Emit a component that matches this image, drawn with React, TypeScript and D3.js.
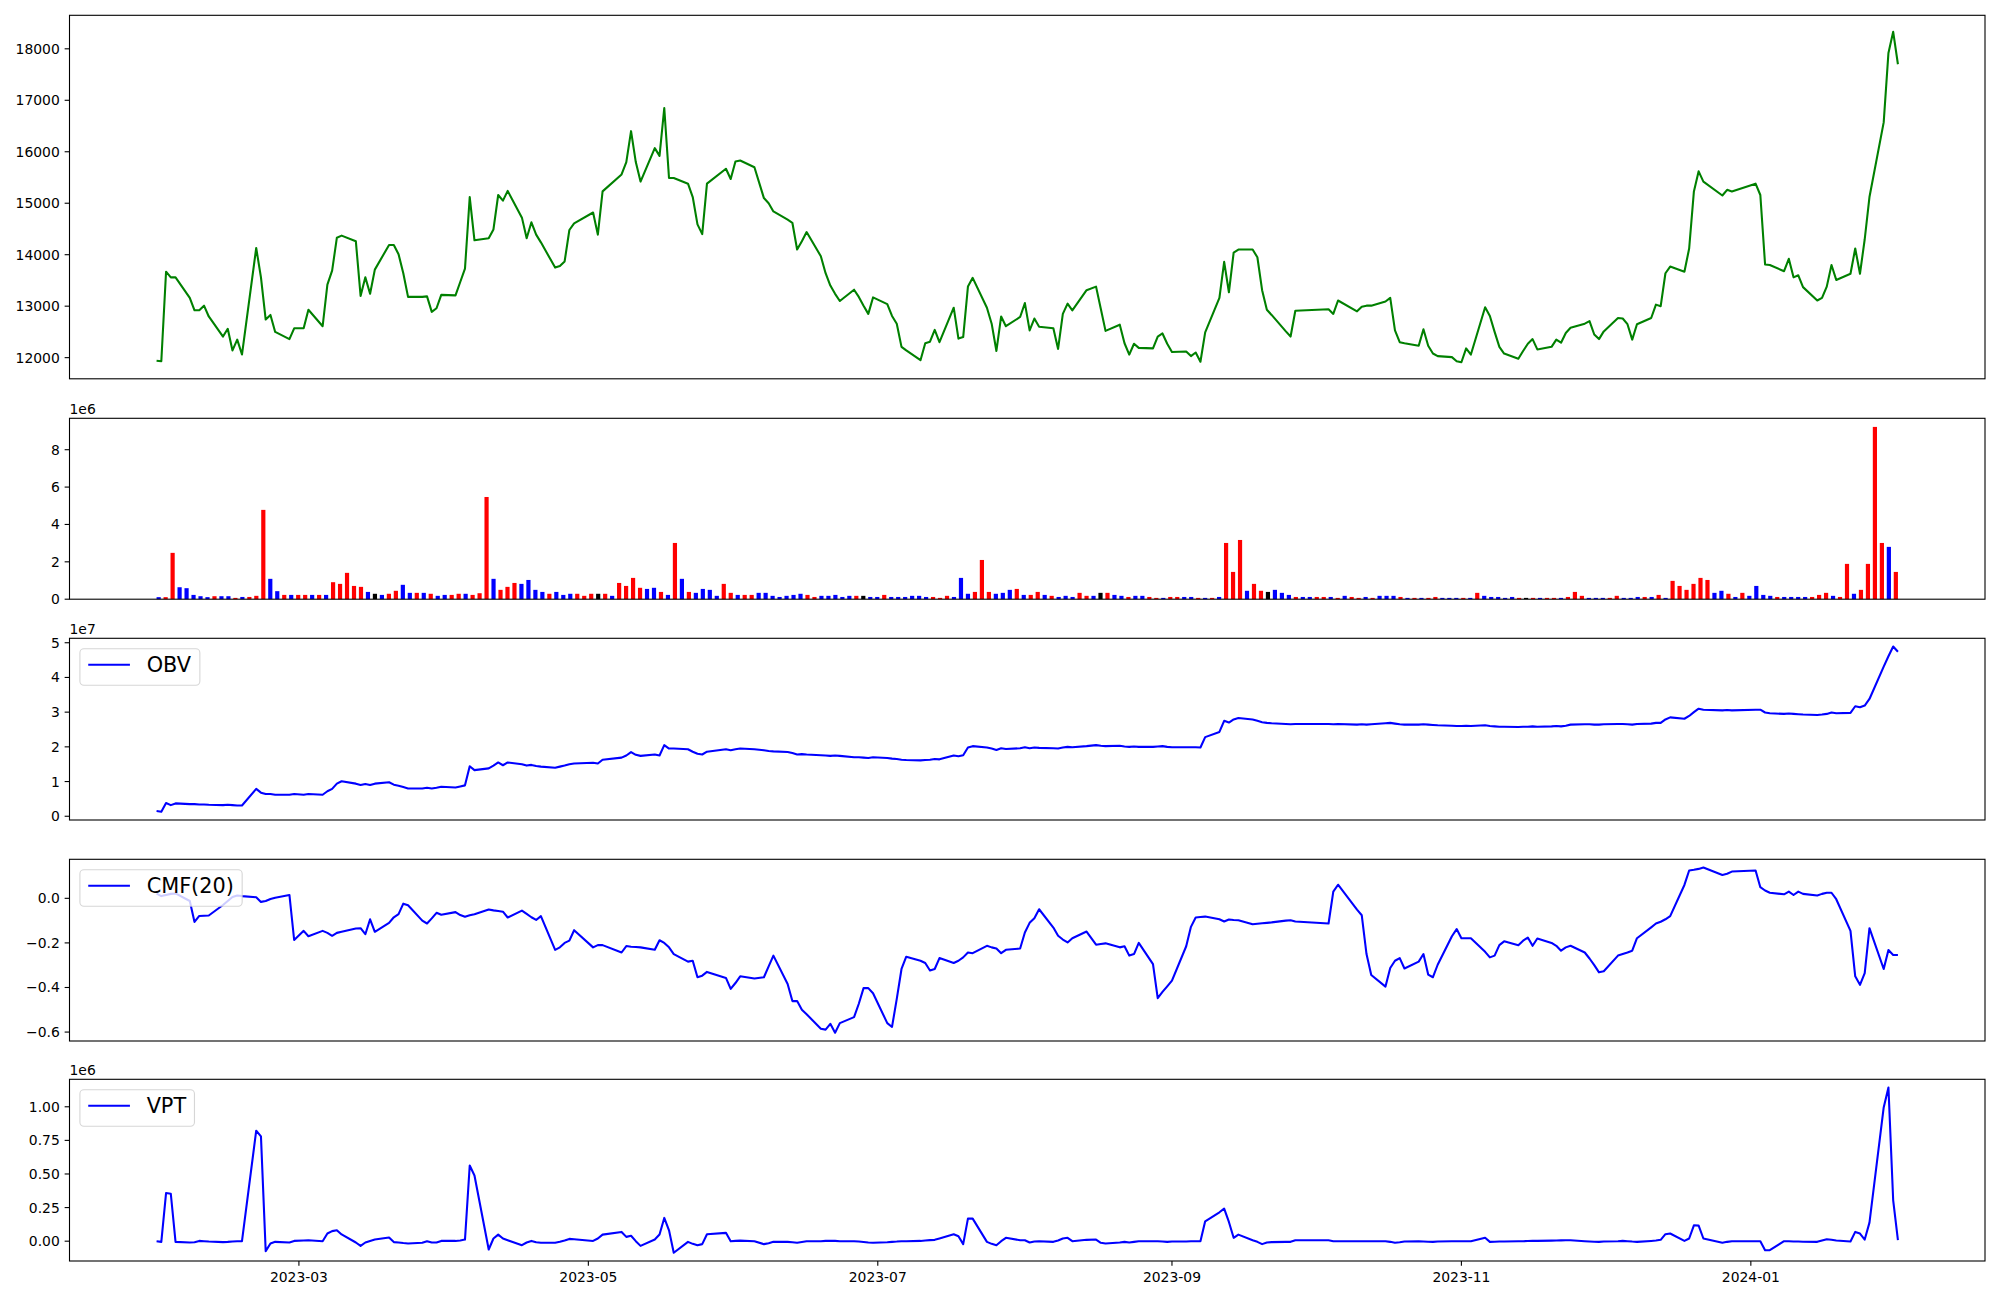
import React from 'react';
import * as d3 from 'd3';

// ---------- data ----------
const START = '2023-01-30';
const END = '2024-02-01';
const HOLIDAYS = ['2023-03-01', '2023-05-01', '2023-05-05', '2023-05-29', '2023-06-06', '2023-08-15', '2023-09-28', '2023-09-29', '2023-10-02', '2023-10-03', '2023-10-09', '2023-12-25', '2023-12-29', '2024-01-01'];

const CLOSE = [
  11940, 11930, 13670, 13560, 13560, 13160, 12920, 12920, 13010, 12800,
  12410, 12560, 12140, 12350, 12060, 14130, 13560, 12740, 12830, 12500,
  12360, 12570, 12570, 12930, 12610, 13420, 13690, 14330, 14370, 14260,
  13200, 13560, 13240, 13710, 14190, 14190, 14010, 13640, 13180, 13180,
  13190, 12890, 12960, 13220, 13210, 13470, 13730, 15120, 14280, 14320,
  14490, 15160, 15050, 15240, 14720, 14320, 14630, 14390, 14240, 13750,
  13780, 13870, 14480, 14610, 14820, 14390, 15230, 15560, 15800, 16400,
  15800, 15420, 16070, 15920, 16850, 15490, 15490, 15380, 15120, 14590,
  14400, 15380, 15670, 15470, 15810, 15830, 15700, 15100, 15000, 14840,
  14680, 14620, 14100, 14260, 14440, 13970, 13640, 13400, 13240, 13100,
  13320, 13180, 13010, 12850, 13170, 13040, 12810, 12660, 12210, 12140,
  11950, 12280, 12310, 12540, 12300, 12970, 12370, 12400, 13380, 13550,
  12970, 12660, 12130, 12800, 12610, 12790, 13060, 12530, 12760, 12600,
  12570, 12170, 12850, 13050, 12920, 13310, 13380, 12950, 12520, 12640,
  12280, 12060, 12270, 12190, 12180, 12410, 12470, 12270, 12110, 12120,
  12030, 12100, 11920, 12490, 13160, 13860, 13270, 14040, 14100, 14100,
  13950, 13310, 12930, 12830, 12510, 12410, 12910, 12940, 12850, 13110,
  12900, 12990, 13010, 13010, 13090, 13160, 12530, 12300, 12280, 12230,
  12550, 12230, 12080, 12030, 12010, 11930, 11910, 12180, 12060, 12980,
  12810, 12500, 12210, 12080, 11980, 12130, 12270, 12360, 12160, 12210,
  12350, 12290, 12480, 12580, 12660, 12710, 12450, 12360, 12510, 12770,
  12760, 12650, 12350, 12650, 12770, 13030, 13000, 13640, 13770, 13670,
  14120, 15230, 15620, 15420, 15150, 15260, 15230, 15380, 15160, 13810,
  13800, 13680, 13920, 13560, 13600, 13370, 13110, 13160, 13380, 13800,
  13510, 13630, 14120, 13630, 14300, 15120, 16570, 17920, 18330, 17700,
];

// volume in millions
const VOLUME = [
  0.11, 0.11, 2.48, 0.64, 0.59, 0.23, 0.16, 0.11, 0.16, 0.16,
  0.16, 0.07, 0.12, 0.12, 0.18, 4.78, 1.09, 0.43, 0.23, 0.23,
  0.23, 0.23, 0.23, 0.23, 0.23, 0.91, 0.82, 1.41, 0.71, 0.66,
  0.39, 0.29, 0.23, 0.29, 0.45, 0.77, 0.34, 0.34, 0.34, 0.29,
  0.18, 0.23, 0.23, 0.29, 0.29, 0.23, 0.32, 5.47, 1.09, 0.50,
  0.66, 0.87, 0.82, 1.03, 0.50, 0.39, 0.29, 0.39, 0.23, 0.29,
  0.29, 0.18, 0.29, 0.29, 0.29, 0.18, 0.87, 0.71, 1.14, 0.61,
  0.55, 0.61, 0.39, 0.23, 3.01, 1.09, 0.39, 0.34, 0.55, 0.50,
  0.18, 0.82, 0.34, 0.23, 0.23, 0.23, 0.34, 0.34, 0.18, 0.12,
  0.18, 0.23, 0.29, 0.23, 0.12, 0.18, 0.18, 0.23, 0.12, 0.18,
  0.18, 0.18, 0.12, 0.12, 0.23, 0.12, 0.12, 0.12, 0.18, 0.18,
  0.12, 0.12, 0.07, 0.18, 0.12, 1.14, 0.29, 0.39, 2.10, 0.39,
  0.29, 0.34, 0.50, 0.55, 0.23, 0.23, 0.39, 0.23, 0.18, 0.12,
  0.18, 0.12, 0.34, 0.18, 0.18, 0.34, 0.34, 0.23, 0.18, 0.12,
  0.18, 0.18, 0.12, 0.07, 0.07, 0.12, 0.12, 0.12, 0.12, 0.07,
  0.07, 0.07, 0.12, 3.01, 1.46, 3.17, 0.45, 0.82, 0.45, 0.39,
  0.50, 0.34, 0.23, 0.12, 0.12, 0.12, 0.12, 0.12, 0.12, 0.07,
  0.18, 0.12, 0.07, 0.12, 0.07, 0.18, 0.18, 0.18, 0.12, 0.07,
  0.07, 0.07, 0.07, 0.12, 0.07, 0.07, 0.07, 0.07, 0.07, 0.34,
  0.18, 0.12, 0.12, 0.07, 0.12, 0.07, 0.07, 0.07, 0.07, 0.07,
  0.07, 0.07, 0.12, 0.39, 0.18, 0.07, 0.07, 0.07, 0.07, 0.18,
  0.07, 0.07, 0.12, 0.12, 0.12, 0.23, 0.07, 0.98, 0.71, 0.50,
  0.82, 1.14, 1.03, 0.34, 0.45, 0.29, 0.12, 0.34, 0.18, 0.71,
  0.23, 0.18, 0.12, 0.12, 0.12, 0.12, 0.12, 0.12, 0.23, 0.34,
  0.18, 0.12, 1.89, 0.29, 0.50, 1.89, 9.22, 3.01, 2.80, 1.46,
];

// candle direction per day: u = up (red), d = down (blue), n = unchanged (black); 10 days per string
const CANDLE = [
  'duudddddud', 'duduuuddud', 'uududuuuuu', 'dnduuddudu', 'dduuduuudu',
  'uudddduddd', 'uuunuduuuu', 'ddudududdd', 'duuduudddd', 'ddduuddddd',
  'undduddddd', 'duuuddduuu', 'ddduduudud', 'dduudnuddu', 'dduuduuddu',
  'duduuuduun', 'dddudduudu', 'duududddud', 'uduudddudu', 'dddddunudu',
  'uduuuddduu', 'dddududuuu', 'uuuddududd', 'ddudddduuu', 'duuduuuudu',
];

// OBV in millions
const OBV = [
  1.5, 1.3, 3.8, 3.2, 3.7, 3.5, 3.5, 3.4, 3.4, 3.3,
  3.2, 3.3, 3.2, 3.1, 3.1, 7.9, 6.8, 6.4, 6.4, 6.2,
  6.2, 6.4, 6.2, 6.4, 6.2, 7.2, 7.9, 9.4, 10.1, 9.4,
  9.0, 9.3, 9.0, 9.4, 9.8, 9.1, 8.8, 8.4, 8.0, 8.0,
  8.2, 8.0, 8.2, 8.5, 8.3, 8.6, 8.9, 14.4, 13.3, 13.8,
  14.6, 15.5, 14.7, 15.5, 15.0, 14.6, 14.8, 14.5, 14.3, 14.0,
  14.3, 14.6, 15.0, 15.2, 15.4, 15.2, 16.3, 16.9, 17.5, 18.5,
  17.7, 17.4, 17.8, 17.5, 20.5, 19.5, 19.5, 19.3, 18.6, 18.0,
  17.8, 18.6, 19.3, 19.0, 19.3, 19.5, 19.3, 19.0, 18.8, 18.7,
  18.5, 18.2, 17.8, 17.9, 17.8, 17.6, 17.5, 17.4, 17.5, 17.4,
  17.0, 17.0, 16.9, 16.8, 17.0, 16.8, 16.6, 16.5, 16.3, 16.2,
  16.1, 16.2, 16.3, 16.5, 16.4, 17.5, 17.3, 17.6, 19.8, 20.2,
  19.8, 19.5, 19.1, 19.6, 19.4, 19.6, 19.9, 19.6, 19.8, 19.7,
  19.6, 19.5, 19.8, 20.0, 19.9, 20.2, 20.5, 20.3, 20.2, 20.3,
  20.1, 20.0, 20.1, 20.0, 20.0, 20.1, 20.2, 20.0, 19.9, 19.9,
  19.9, 19.9, 19.8, 22.8, 24.3, 27.5, 27.0, 27.9, 28.3, 27.9,
  27.5, 27.1, 26.9, 26.8, 26.6, 26.5, 26.6, 26.6, 26.5, 26.6,
  26.4, 26.5, 26.4, 26.5, 26.8, 26.9, 26.7, 26.5, 26.4, 26.4,
  26.5, 26.4, 26.3, 26.2, 26.1, 26.0, 26.0, 26.1, 26.0, 26.2,
  26.0, 25.9, 25.8, 25.8, 25.7, 25.8, 25.8, 25.9, 25.8, 25.9,
  26.0, 25.9, 26.1, 26.4, 26.5, 26.5, 26.4, 26.4, 26.5, 26.6,
  26.6, 26.5, 26.4, 26.6, 26.7, 26.9, 26.9, 27.9, 28.5, 28.1,
  28.9, 30.0, 31.0, 30.7, 30.5, 30.6, 30.5, 30.7, 30.7, 29.9,
  29.7, 29.5, 29.6, 29.5, 29.4, 29.3, 29.2, 29.3, 29.5, 29.9,
  29.7, 29.8, 31.7, 31.4, 31.9, 33.8, 43.1, 46.1, 48.9, 47.4,
];

const CMF = [
  0.021, 0.01, 0.015, 0.02, 0.022, -0.012, -0.106, -0.079, -0.078, -0.077,
  -0.03, -0.012, 0.006, 0.013, 0.01, 0.005, -0.016, -0.012, -0.003, 0.003,
  0.015, -0.187, -0.146, -0.17, -0.146, -0.155, -0.168, -0.155, -0.15, -0.135,
  -0.134, -0.161, -0.094, -0.15, -0.11, -0.085, -0.071, -0.024, -0.031, -0.1,
  -0.113, -0.09, -0.065, -0.074, -0.062, -0.075, -0.083, -0.076, -0.071, -0.05,
  -0.054, -0.057, -0.06, -0.086, -0.055, -0.07, -0.085, -0.097, -0.08, -0.231,
  -0.22, -0.2, -0.19, -0.143, -0.22, -0.21, -0.21, -0.243, -0.214, -0.217,
  -0.218, -0.22, -0.231, -0.188, -0.2, -0.22, -0.25, -0.284, -0.28, -0.354,
  -0.347, -0.33, -0.357, -0.406, -0.38, -0.35, -0.36, -0.354, -0.305, -0.257,
  -0.384, -0.461, -0.461, -0.5, -0.52, -0.585, -0.589, -0.563, -0.603, -0.56,
  -0.533, -0.473, -0.403, -0.403, -0.426, -0.56, -0.577, -0.451, -0.317, -0.262,
  -0.28, -0.29, -0.324, -0.317, -0.268, -0.29, -0.28, -0.265, -0.243, -0.246,
  -0.213, -0.22, -0.225, -0.246, -0.231, -0.225, -0.153, -0.11, -0.089, -0.049,
  -0.131, -0.168, -0.185, -0.198, -0.179, -0.149, -0.208, -0.205, -0.202, -0.22,
  -0.215, -0.257, -0.25, -0.2, -0.295, -0.448, -0.42, -0.395, -0.369, -0.215,
  -0.128, -0.086, -0.084, -0.082, -0.094, -0.104, -0.095, -0.097, -0.098, -0.116,
  -0.114, -0.112, -0.11, -0.108, -0.1, -0.098, -0.104, -0.113, 0.03, 0.061,
  -0.051, -0.076, -0.25, -0.344, -0.396, -0.3125, -0.28, -0.268, -0.315, -0.284,
  -0.25, -0.342, -0.354, -0.298, -0.17, -0.138, -0.179, -0.179, -0.179, -0.24,
  -0.265, -0.257, -0.21, -0.193, -0.21, -0.19, -0.176, -0.213, -0.18, -0.2,
  -0.213, -0.235, -0.22, -0.213, -0.243, -0.27, -0.3, -0.332, -0.327, -0.257,
  -0.25, -0.243, -0.235, -0.179, -0.13, -0.113, -0.105, -0.094, -0.08, 0.06,
  0.125, 0.128, 0.132, 0.138, 0.105, 0.11, 0.12, 0.125, 0.05, 0.035,
  0.025, 0.018, 0.03, 0.015, 0.03, 0.02, 0.013, 0.02, 0.025, 0.025,
  -0.004, -0.146, -0.35, -0.388, -0.336, -0.134, -0.317, -0.232, -0.254, -0.254,
];

// VPT in millions
const VPT = [
  0, -0.005, 0.358, 0.353, -0.005, -0.01, -0.008, 0.002, 0.0, -0.003,
  -0.007, -0.005, -0.002, 0.0, 0.0, 0.822, 0.78, -0.074, -0.017, -0.005,
  -0.01, 0.002, 0.005, 0.007, 0.0, 0.057, 0.075, 0.081, 0.05, -0.01,
  -0.035, -0.01, 0.002, 0.012, 0.027, -0.007, -0.01, -0.014, -0.017, -0.012,
  0.0, -0.01, -0.01, 0.002, 0.002, 0.005, 0.012, 0.563, 0.489, -0.062,
  0.02, 0.049, 0.02, 0.007, -0.03, -0.01, 0.002, -0.008, -0.012, -0.012,
  -0.005, 0.005, 0.017, 0.015, 0.002, 0.02, 0.049, 0.069, 0.032, 0.04,
  0.0, -0.035, 0.012, 0.05, 0.173, 0.081, -0.086, -0.005, -0.02, -0.03,
  -0.022, 0.052, 0.062, 0.0, 0.002, 0.004, 0.0, -0.022, -0.015, -0.005,
  -0.005, -0.008, -0.012, -0.006, 0.0, 0.0, 0.002, 0.003, 0.002, 0.0,
  0.0, -0.003, -0.006, -0.01, -0.012, -0.008, -0.005, -0.003, 0.0, 0.0,
  0.002, 0.005, 0.008, 0.01, 0.02, 0.052, 0.037, -0.022, 0.168, 0.168,
  -0.005, -0.02, -0.03, 0.0, 0.025, 0.007, 0.007, -0.01, -0.002, 0.0,
  -0.005, 0.005, 0.02, 0.025, 0.0, 0.01, 0.012, -0.012, -0.017, -0.01,
  -0.005, -0.01, -0.005, 0.0, 0.0, 0.0, -0.002, -0.005, -0.003, -0.002,
  0.0, 0.0, 0.0, 0.148, 0.215, 0.242, 0.143, 0.025, 0.049, 0.007,
  -0.005, -0.022, -0.01, -0.007, -0.005, -0.005, 0.007, 0.007, 0.0, 0.0,
  0.0, 0.0, 0.0, 0.0, 0.0, -0.005, -0.012, -0.008, -0.002, 0.0,
  -0.002, -0.004, -0.005, -0.003, -0.001, 0.0, 0.0, 0.0, 0.0, 0.025,
  -0.005, -0.004, -0.003, -0.002, 0.0, 0.0, 0.001, 0.002, 0.002, 0.004,
  0.005, 0.006, 0.007, 0.007, 0.0, -0.002, -0.004, -0.005, -0.003, 0.0,
  0.002, 0.0, -0.003, -0.005, 0.002, 0.005, 0.01, 0.052, 0.057, 0.002,
  0.02, 0.118, 0.116, 0.02, -0.012, -0.005, 0.0, 0.0, 0.0, -0.067,
  -0.067, 0.0, 0.0, -0.002, -0.003, -0.004, -0.005, 0.005, 0.015, 0.01,
  0.005, -0.002, 0.069, 0.057, 0.012, 0.138, 0.995, 1.143, 0.304, 0.007,
];

const X_TICKS = ['2023-03', '2023-05', '2023-07', '2023-09', '2023-11', '2024-01'];
const PRICE_TICKS = [12000, 13000, 14000, 15000, 16000, 17000, 18000];
const VOL_TICKS = [0, 2, 4, 6, 8];
const OBV_TICKS = [0, 1, 2, 3, 4, 5];
const CMF_TICKS = [0, -0.2, -0.4, -0.6];
const VPT_TICKS = [0, 0.25, 0.5, 0.75, 1.0];

// ---------- layout ----------
const W = 2000;
const H = 1300;
const L = 69.5;
const R = 1985;
const PANELS = [
  { top: 15.3, bottom: 378.8 },
  { top: 418.3, bottom: 599.2 },
  { top: 638.3, bottom: 820 },
  { top: 859.3, bottom: 1041 },
  { top: 1079.3, bottom: 1261 },
];
const FONT = 'DejaVu Sans, sans-serif';
const TICK_FS = 13.9;
const LEG_FS = 20.83;
const TL = 4.86;

function tradingDays(): Date[] {
  const out: Date[] = [];
  const hol = new Set(HOLIDAYS);
  const t0 = Date.parse(START + 'T00:00:00Z');
  const t1 = Date.parse(END + 'T00:00:00Z');
  for (let t = t0; t <= t1; t += 86400000) {
    const d = new Date(t);
    const wd = d.getUTCDay();
    const iso = d.toISOString().slice(0, 10);
    if (wd === 0 || wd === 6 || hol.has(iso)) continue;
    out.push(d);
  }
  return out;
}

function padded(vals: number[]): [number, number] {
  const mn = d3.min(vals) as number;
  const mx = d3.max(vals) as number;
  const r = mx - mn;
  return [mn - 0.05 * r, mx + 0.05 * r];
}

const fmtMinus = (s: string) => s.replace('-', '\u2212');

function YAxis({ scale, ticks, fmt }: { scale: d3.ScaleLinear<number, number>; ticks: number[]; fmt: (v: number) => string }) {
  return (
    <g>
      {ticks.map((t) => (
        <g key={t}>
          <line x1={L - TL} x2={L} y1={scale(t)} y2={scale(t)} stroke="#000" strokeWidth={1.1} />
          <text x={L - TL - 4.86} y={scale(t)} dy="0.36em" textAnchor="end" fontSize={TICK_FS} fontFamily={FONT} fill="#000">
            {fmtMinus(fmt(t))}
          </text>
        </g>
      ))}
    </g>
  );
}

function Legend({ top, label, textW }: { top: number; label: string; textW: number }) {
  const x = L + 10.4;
  const y = top + 10.4;
  const pad = 8.33;
  const hl = 41.7;
  const gap = 16.7;
  const w = pad + hl + gap + textW + pad;
  const h = 36.5;
  return (
    <g>
      <rect x={x} y={y} width={w} height={h} rx={4} ry={4} fill="#fff" fillOpacity={0.8} stroke="#cccccc" strokeOpacity={0.8} strokeWidth={1.1} />
      <line x1={x + pad} x2={x + pad + hl} y1={y + 16} y2={y + 16} stroke="#0000ff" strokeWidth={2.08} />
      <text x={x + pad + hl + gap} y={y + 23.6} fontSize={LEG_FS} fontFamily={FONT} fill="#000">
        {label}
      </text>
    </g>
  );
}

function Frame({ p }: { p: { top: number; bottom: number } }) {
  return <rect x={L} y={p.top} width={R - L} height={p.bottom - p.top} fill="none" stroke="#000" strokeWidth={1.1} />;
}

export default function App() {
  const dates = tradingDays();
  const n = Math.min(dates.length, CLOSE.length);
  const idx = d3.range(n);
  const colorsStr = CANDLE.join('');

  const t0 = dates[0].getTime();
  const t1 = dates[n - 1].getTime();
  const span = t1 - t0;
  const x = d3.scaleUtc().domain([new Date(t0 - 0.05 * span), new Date(t1 + 0.05 * span)]).range([L, R]);

  const bw = 0.6;
  const bspan = n - 1 + bw;
  const xb = d3.scaleLinear().domain([-bw / 2 - 0.05 * bspan, n - 1 + bw / 2 + 0.05 * bspan]).range([L, R]);

  const yP = d3.scaleLinear().domain(padded(CLOSE.slice(0, n))).range([PANELS[0].bottom, PANELS[0].top]);
  const yV = d3.scaleLinear().domain([0, (d3.max(VOLUME) as number) * 1.05]).range([PANELS[1].bottom, PANELS[1].top]);
  const yO = d3.scaleLinear().domain(padded(OBV.slice(0, n))).range([PANELS[2].bottom, PANELS[2].top]);
  const yC = d3.scaleLinear().domain(padded(CMF.slice(0, n))).range([PANELS[3].bottom, PANELS[3].top]);
  const yT = d3.scaleLinear().domain(padded(VPT.slice(0, n))).range([PANELS[4].bottom, PANELS[4].top]);

  const mkLine = (vals: number[], ys: d3.ScaleLinear<number, number>) =>
    d3.line<number>().x((i) => x(dates[i])).y((i) => ys(vals[i]))(idx) || '';

  const colorOf = (c: string) => (c === 'u' ? '#ff0000' : c === 'd' ? '#0000ff' : '#000000');

  const xTickDates = X_TICKS.map((s) => new Date(Date.parse(s + '-01T00:00:00Z')));

  return (
    <svg width={W} height={H} style={{ position: 'absolute', left: 0, top: 0, background: '#fff' }} xmlns="http://www.w3.org/2000/svg">
      <rect x={0} y={0} width={W} height={H} fill="#fff" />

      {/* Panel 1: price */}
      <path d={mkLine(CLOSE, yP)} fill="none" stroke="#008000" strokeWidth={2.08} strokeLinejoin="round" strokeLinecap="butt" />
      <YAxis scale={yP} ticks={PRICE_TICKS} fmt={(v) => String(v)} />
      <Frame p={PANELS[0]} />

      {/* Panel 2: volume bars */}
      <g>
        {idx.map((i) => {
          const x0 = xb(i - bw / 2);
          const x1 = xb(i + bw / 2);
          const yv = yV(VOLUME[i]);
          return <rect key={i} x={x0} y={yv} width={x1 - x0} height={yV(0) - yv} fill={colorOf(colorsStr[i])} />;
        })}
      </g>
      <YAxis scale={yV} ticks={VOL_TICKS} fmt={(v) => String(v)} />
      <text x={L} y={PANELS[1].top - 4.5} fontSize={TICK_FS} fontFamily={FONT} fill="#000">1e6</text>
      <Frame p={PANELS[1]} />

      {/* Panel 3: OBV (values in 1e6, axis in 1e7) */}
      <path d={mkLine(OBV, yO)} fill="none" stroke="#0000ff" strokeWidth={2.08} strokeLinejoin="round" />
      <YAxis scale={yO} ticks={OBV_TICKS.map((t) => t * 10)} fmt={(v) => String(v / 10)} />
      <text x={L} y={PANELS[2].top - 4.5} fontSize={TICK_FS} fontFamily={FONT} fill="#000">1e7</text>
      <Legend top={PANELS[2].top} label="OBV" textW={44.9} />
      <Frame p={PANELS[2]} />

      {/* Panel 4: CMF */}
      <path d={mkLine(CMF, yC)} fill="none" stroke="#0000ff" strokeWidth={2.08} strokeLinejoin="round" />
      <YAxis scale={yC} ticks={CMF_TICKS} fmt={(v) => v.toFixed(1)} />
      <Legend top={PANELS[3].top} label="CMF(20)" textW={87.2} />
      <Frame p={PANELS[3]} />

      {/* Panel 5: VPT */}
      <path d={mkLine(VPT, yT)} fill="none" stroke="#0000ff" strokeWidth={2.08} strokeLinejoin="round" />
      <YAxis scale={yT} ticks={VPT_TICKS} fmt={(v) => v.toFixed(2)} />
      <text x={L} y={PANELS[4].top - 4.5} fontSize={TICK_FS} fontFamily={FONT} fill="#000">1e6</text>
      <Legend top={PANELS[4].top} label="VPT" textW={39.5} />
      <Frame p={PANELS[4]} />

      {/* x axis */}
      <g>
        {xTickDates.map((d, k) => (
          <g key={k}>
            <line x1={x(d)} x2={x(d)} y1={PANELS[4].bottom} y2={PANELS[4].bottom + TL} stroke="#000" strokeWidth={1.1} />
            <text x={x(d)} y={PANELS[4].bottom + 21} textAnchor="middle" fontSize={TICK_FS} fontFamily={FONT} fill="#000">
              {X_TICKS[k]}
            </text>
          </g>
        ))}
      </g>
    </svg>
  );
}
